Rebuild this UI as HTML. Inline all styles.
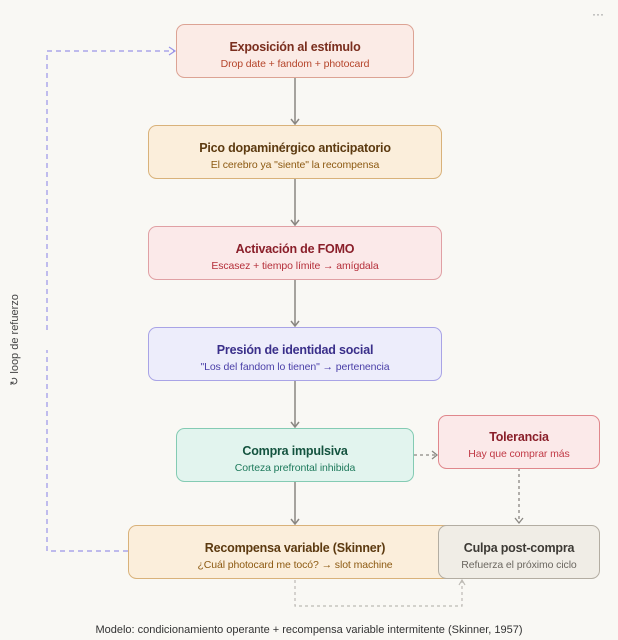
<!DOCTYPE html>
<html><head><meta charset="utf-8"><style>
html,body{margin:0;padding:0;background:#f9f8f4;}
svg{display:block;font-family:"Liberation Sans",sans-serif;}
.t{font-size:12.5px;font-weight:bold;text-anchor:middle;letter-spacing:-0.2px;}
.s{font-size:10.5px;text-anchor:middle;letter-spacing:-0.1px;}
</style></head><body>
<svg width="618" height="640" viewBox="0 0 618 640" xmlns="http://www.w3.org/2000/svg">
<rect width="618" height="640" fill="#f9f8f4"/>
<text x="598" y="18" font-size="12" fill="#888" text-anchor="middle">···</text>

<g stroke="#9a94e8" stroke-width="1.2" stroke-dasharray="5,4" fill="none">
<path d="M128 551 H47 V350"/>
<path d="M47 330 V51 H174"/>
</g>
<path d="M169 47 L175 51 L169 55" stroke="#9a94e8" fill="none" stroke-width="1.2"/>
<text transform="translate(18,340) rotate(-90)" font-size="11" fill="#444" text-anchor="middle">↻ loop de refuerzo</text>

<g stroke="#8a8782" stroke-width="1.5" fill="none">
<line x1="295" y1="77" x2="295" y2="124"/><path d="M291 119 L295 124 L299 119"/>
<line x1="295" y1="179" x2="295" y2="225"/><path d="M291 220 L295 225 L299 220"/>
<line x1="295" y1="280" x2="295" y2="326"/><path d="M291 321 L295 326 L299 321"/>
<line x1="295" y1="381" x2="295" y2="427"/><path d="M291 422 L295 427 L299 422"/>
<line x1="295" y1="481" x2="295" y2="524"/><path d="M291 519 L295 524 L299 519"/>
</g>
<g stroke="#8a8782" stroke-width="1.3" fill="none" stroke-dasharray="3,3">
<line x1="414" y1="455" x2="436" y2="455"/>
<line x1="519" y1="468" x2="519" y2="523"/>
</g>
<path d="M432 451 L437 455 L432 459" stroke="#8a8782" fill="none" stroke-width="1.3"/>
<path d="M515 518 L519 523 L523 518" stroke="#8a8782" fill="none" stroke-width="1.3"/>
<path d="M295 580 V606 H462 V580" stroke="#bdbab4" stroke-width="1.2" fill="none" stroke-dasharray="3,3"/>
<path d="M459 585 L462 580 L465 585" stroke="#bdbab4" fill="none" stroke-width="1.2"/>

<rect x="176.5" y="24.5" width="237" height="53" rx="8" fill="#fbebe6" stroke="#dca394"/>
<text class="t" x="295" y="51" fill="#7a2e1e">Exposición al estímulo</text>
<text class="s" x="295" y="67" fill="#b5452b">Drop date + fandom + photocard</text>

<rect x="148.5" y="125.5" width="293" height="53" rx="8" fill="#fbeedb" stroke="#d9b27a"/>
<text class="t" x="295" y="152" fill="#5c3a10">Pico dopaminérgico anticipatorio</text>
<text class="s" x="295" y="168" fill="#8d5a12">El cerebro ya "siente" la recompensa</text>

<rect x="148.5" y="226.5" width="293" height="53" rx="8" fill="#fbe9e9" stroke="#e0a0a4"/>
<text class="t" x="295" y="253" fill="#8a1f2a">Activación de FOMO</text>
<text class="s" x="295" y="269" fill="#b52f3a">Escasez + tiempo límite → amígdala</text>

<rect x="148.5" y="327.5" width="293" height="53" rx="8" fill="#ededfb" stroke="#a9a4e6"/>
<text class="t" x="295" y="354" fill="#3a2f8a">Presión de identidad social</text>
<text class="s" x="295" y="370" fill="#4a3fa8">"Los del fandom lo tienen" → pertenencia</text>

<rect x="176.5" y="428.5" width="237" height="53" rx="8" fill="#e2f4ee" stroke="#84cbb3"/>
<text class="t" x="295" y="455" fill="#14533f">Compra impulsiva</text>
<text class="s" x="295" y="471" fill="#1e7a5c">Corteza prefrontal inhibida</text>

<rect x="438.5" y="415.5" width="161" height="53" rx="8" fill="#fbe9e9" stroke="#e0878c"/>
<text class="t" x="519" y="441" fill="#8a1f2a">Tolerancia</text>
<text class="s" x="519" y="457" fill="#c13a46">Hay que comprar más</text>

<rect x="128.5" y="525.5" width="332" height="53" rx="8" fill="#fbeedb" stroke="#d9b27a"/>
<text class="t" x="295" y="552" fill="#5c3a10">Recompensa variable (Skinner)</text>
<text class="s" x="295" y="568" fill="#8d5a12">¿Cuál photocard me tocó? → slot machine</text>

<rect x="438.5" y="525.5" width="161" height="53" rx="8" fill="#f0ede6" stroke="#b3ada2"/>
<text class="t" x="519" y="552" fill="#3d3a35">Culpa post-compra</text>
<text class="s" x="519" y="568" fill="#6b6760">Refuerza el próximo ciclo</text>

<text x="309" y="633" font-size="11" fill="#333" text-anchor="middle">Modelo: condicionamiento operante + recompensa variable intermitente (Skinner, 1957)</text>
</svg>
</body></html>
